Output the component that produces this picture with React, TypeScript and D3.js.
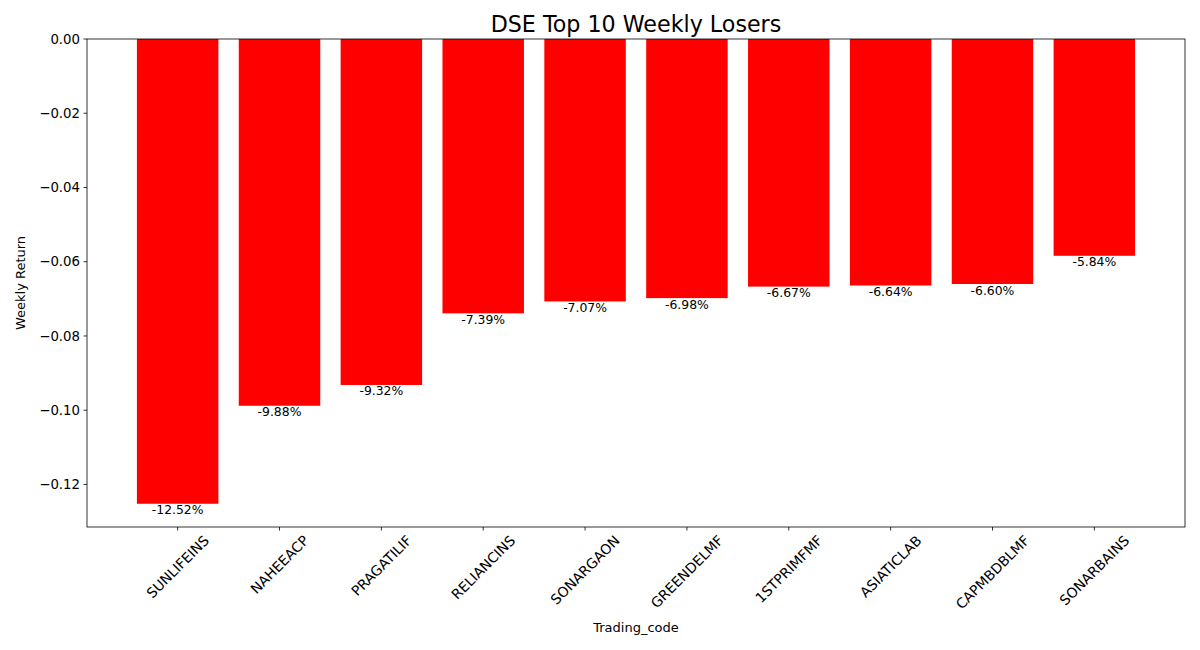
import React, { useEffect, useRef } from 'react'
import * as d3 from 'd3'

const codes = ['SUNLIFEINS', 'NAHEEACP', 'PRAGATILIF', 'RELIANCINS', 'SONARGAON', 'GREENDELMF', '1STPRIMFMF', 'ASIATICLAB', 'CAPMBDBLMF', 'SONARBAINS']
const returns = [-0.1252, -0.0988, -0.0932, -0.0739, -0.0707, -0.0698, -0.0667, -0.0664, -0.0660, -0.0584]
const yTicks = [0, -0.02, -0.04, -0.06, -0.08, -0.1, -0.12]

const W = 1200
const H = 650
const FONT = 'DejaVu Sans, sans-serif'

export default function App() {
  const svgRef = useRef<SVGSVGElement>(null)

  useEffect(() => {
    if (!svgRef.current) return
    const root = d3.select(svgRef.current)
    root.selectAll('*').remove()

    const margin = { top: 39, right: 15, bottom: 123, left: 87 }
    const innerWidth = W - margin.left - margin.right
    const innerHeight = H - margin.top - margin.bottom

    // matplotlib-like limits: bars 0.8 wide, 5% x margin, sticky 0 on top
    const n = codes.length
    const xPad = (n - 1 + 0.8) * 0.05
    const xScale = d3.scaleLinear()
      .domain([-0.4 - xPad, n - 1 + 0.4 + xPad])
      .range([0, innerWidth])

    const minV = d3.min(returns) as number
    const yScale = d3.scaleLinear()
      .domain([minV + minV * 0.05, 0])
      .range([innerHeight, 0])

    const svg = root.append('g')
      .attr('transform', `translate(${margin.left},${margin.top})`)

    // Bars
    svg.selectAll('.bar')
      .data(returns)
      .enter()
      .append('rect')
      .attr('class', 'bar')
      .attr('x', (d, i) => xScale(i - 0.4))
      .attr('width', xScale(0.8) - xScale(0))
      .attr('y', yScale(0))
      .attr('height', d => yScale(d) - yScale(0))
      .attr('fill', '#ff0000')

    // Value labels under each bar
    svg.selectAll('.val')
      .data(returns)
      .enter()
      .append('text')
      .attr('class', 'val')
      .attr('x', (d, i) => xScale(i))
      .attr('y', d => yScale(d) + 10.5)
      .attr('text-anchor', 'middle')
      .attr('font-family', FONT)
      .attr('font-size', '12.4px')
      .attr('fill', '#000')
      .text(d => `${(d * 100).toFixed(2)}%`)

    // Frame
    svg.append('rect')
      .attr('width', innerWidth)
      .attr('height', innerHeight)
      .attr('fill', 'none')
      .attr('stroke', '#000')
      .attr('stroke-width', 0.8)

    // Y ticks
    const yt = svg.selectAll('.ytick')
      .data(yTicks)
      .enter()
      .append('g')
      .attr('class', 'ytick')
      .attr('transform', d => `translate(0,${yScale(d)})`)
    yt.append('line')
      .attr('x1', -3.5)
      .attr('x2', 0)
      .attr('stroke', '#000')
      .attr('stroke-width', 0.8)
    yt.append('text')
      .attr('x', -7)
      .attr('dy', '0.35em')
      .attr('text-anchor', 'end')
      .attr('font-family', FONT)
      .attr('font-size', '13.3px')
      .text(d => d3.format('.2f')(d).replace('-', '\u2212'))

    // X ticks with rotated labels
    const xt = svg.selectAll('.xtick')
      .data(codes)
      .enter()
      .append('g')
      .attr('class', 'xtick')
      .attr('transform', (d, i) => `translate(${xScale(i)},${innerHeight})`)
    xt.append('line')
      .attr('y1', 0)
      .attr('y2', 3.5)
      .attr('stroke', '#000')
      .attr('stroke-width', 0.8)
    const labels = xt.append('text')
      .attr('text-anchor', 'middle')
      .attr('dominant-baseline', 'central')
      .attr('font-family', FONT)
      .attr('font-size', '13.9px')
      .text(d => d)
    labels.each(function () {
      const el = this as SVGTextElement
      const w = el.getComputedTextLength()
      const h = 13.9
      const half = (w + h) * Math.SQRT1_2 / 2
      d3.select(el).attr('transform', `translate(0,${6 + half}) rotate(-45)`)
    })

    // Axis labels
    svg.append('text')
      .attr('x', innerWidth / 2)
      .attr('y', innerHeight + 105)
      .attr('text-anchor', 'middle')
      .attr('font-family', FONT)
      .attr('font-size', '13px')
      .text('Trading_code')

    svg.append('text')
      .attr('transform', 'rotate(-90)')
      .attr('x', -innerHeight / 2)
      .attr('y', -margin.left + 25)
      .attr('text-anchor', 'middle')
      .attr('font-family', FONT)
      .attr('font-size', '13px')
      .text('Weekly Return')

    // Title
    svg.append('text')
      .attr('x', innerWidth / 2)
      .attr('y', -7)
      .attr('text-anchor', 'middle')
      .attr('font-family', FONT)
      .attr('font-size', '22.2px')
      .text('DSE Top 10 Weekly Losers')
  }, [])

  return (
    <svg
      ref={svgRef}
      width={W}
      height={H}
      style={{ position: 'absolute', left: 0, top: 0, background: '#fff' }}
    />
  )
}
